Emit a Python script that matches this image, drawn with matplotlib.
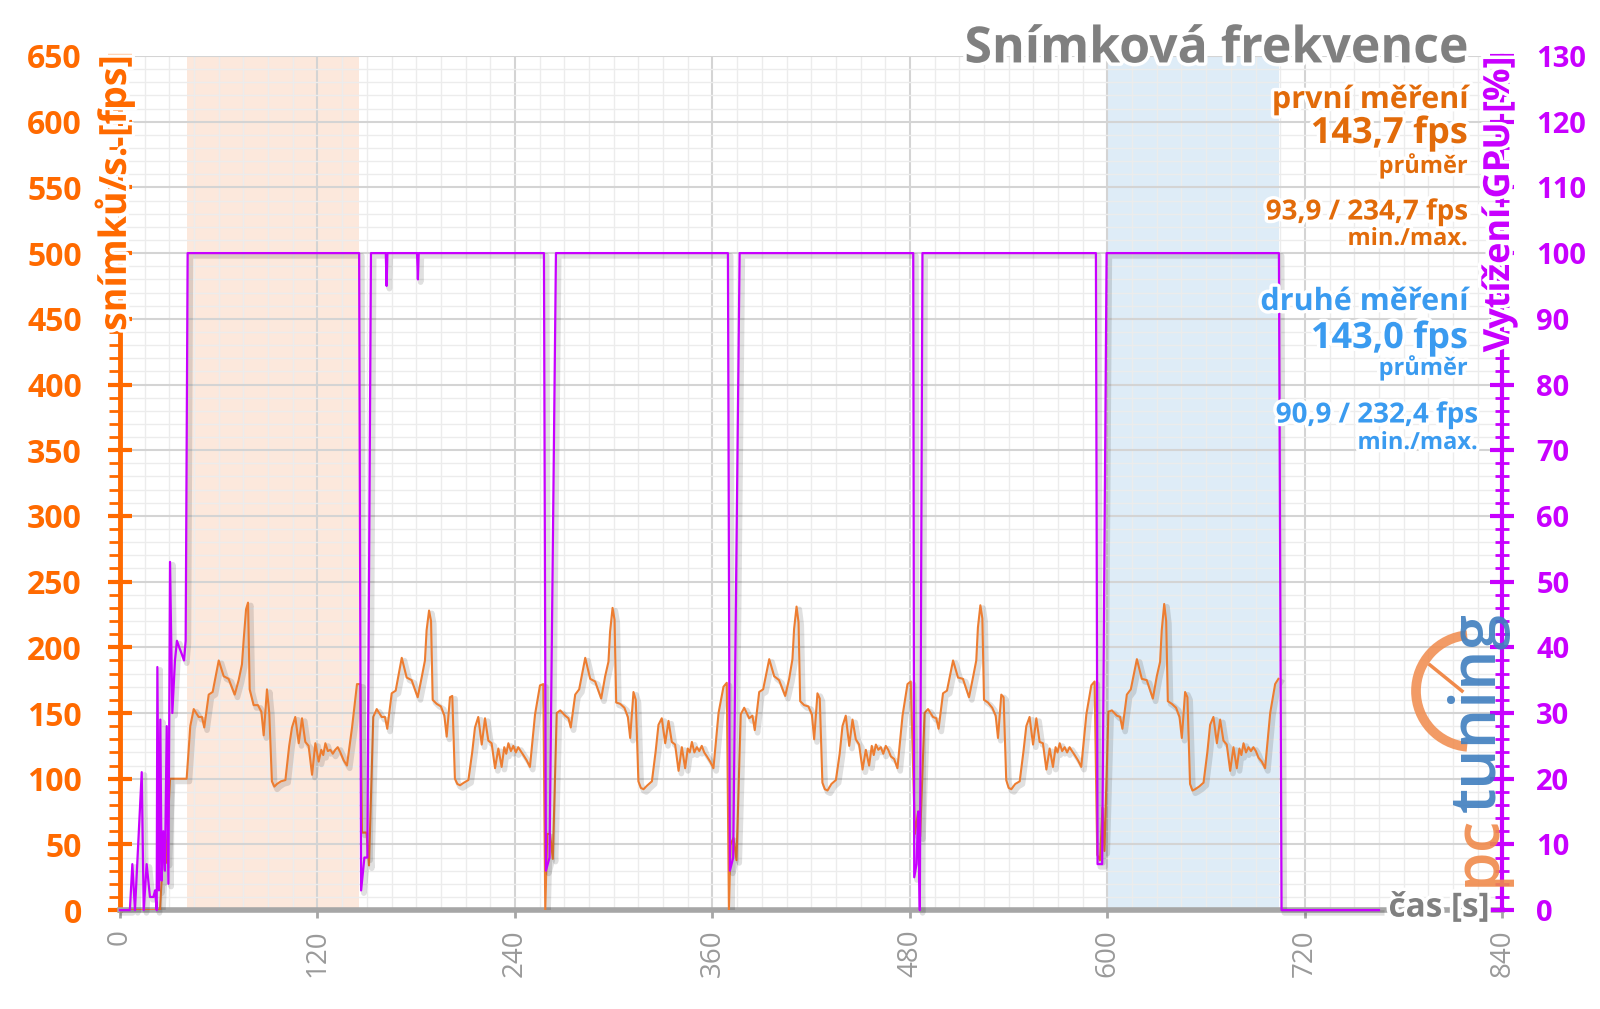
import numpy as np
import matplotlib
matplotlib.use('Agg')
import matplotlib.pyplot as plt
from matplotlib.ticker import MultipleLocator
from matplotlib.patches import Arc
import matplotlib.patheffects as pe

plt.rcParams['font.family'] = ['Open Sans', 'DejaVu Sans']

##Datos##
# casy uvnitr jednoho behu benchmarku (s od zacatku behu)
run_offsets = [1.4, 3.5, 6.5, 8.5, 9.9, 12.6, 15.0, 18.7, 21.7, 24.7,
               28.4, 30.8, 32.8, 33.8, 35.3, 36.5, 37.5, 39.9, 42.5, 44.6,
               46.0, 48.0, 49.4, 51.0, 52.5, 54.1, 56.5, 59.2, 61.5, 63.2,
               65.2, 67.3, 69.3, 71.3, 73.3, 75.4, 77.4, 79.4, 81.0, 82.2,
               83.5, 85.0, 86.5, 88.0, 89.5, 91.0, 92.6, 94.6, 96.6, 99.7,
               102.7, 104.7]
run_starts = [41.3, 152.5, 264.0, 375.8, 487.5, 599.2]

fps_run1 = [140, 153, 147, 147, 139, 164, 166, 190, 178, 176,
            164, 175, 187, 205, 229, 234, 168, 156, 156, 151,
            133, 168, 150, 98, 94, 96, 98, 99, 125, 139,
            147, 127, 146, 128, 125, 103, 127, 113, 122, 118,
            127, 121, 122, 119, 122, 124, 120, 114, 110, 139,
            172, 172]
fps_run2 = [147, 153, 147, 147, 138, 165, 167, 192, 177, 175,
            162, 177, 190, 213, 228, 220, 160, 157, 155, 148,
            132, 162, 163, 100, 96, 95, 97, 99, 120, 139,
            147, 126, 146, 129, 127, 108, 123, 109, 124, 119,
            127, 121, 125, 120, 124, 121, 118, 114, 109, 149,
            171, 172]
fps_run3 = [150, 152, 148, 146, 139, 164, 168, 192, 176, 174,
            161, 178, 189, 212, 230, 221, 158, 157, 154, 147,
            131, 166, 160, 98, 93, 92, 95, 98, 121, 141,
            146, 127, 144, 128, 126, 106, 124, 108, 123, 120,
            128, 120, 124, 121, 125, 120, 117, 113, 108, 150,
            170, 173]
fps_run4 = [149, 154, 146, 148, 137, 166, 168, 191, 178, 175,
            163, 176, 191, 214, 231, 219, 159, 156, 155, 149,
            130, 165, 161, 97, 92, 91, 96, 99, 119, 140,
            148, 125, 145, 130, 126, 107, 122, 110, 125, 118,
            126, 122, 124, 119, 125, 122, 117, 115, 108, 148,
            172, 174]
fps_run5 = [150, 153, 147, 146, 138, 165, 167, 190, 177, 176,
            162, 177, 190, 215, 232, 222, 160, 158, 154, 148,
            131, 164, 162, 99, 93, 92, 96, 98, 121, 140,
            147, 126, 146, 128, 127, 107, 123, 109, 124, 120,
            127, 121, 124, 120, 124, 121, 118, 114, 109, 149,
            171, 174]
fps_run6 = [151, 152, 148, 147, 138, 164, 168, 191, 176, 175,
            161, 178, 189, 213, 233, 220, 159, 157, 154, 147,
            131, 166, 162, 96, 91, 92, 94, 97, 120, 141,
            147, 127, 145, 129, 126, 106, 124, 108, 123, 118,
            127, 120, 124, 121, 124, 121, 116, 113, 108, 150,
            172, 176]
fps_runs = [fps_run1, fps_run2, fps_run3, fps_run4, fps_run5, fps_run6]

# nabeh pred prvnim behem
pre_t = [0, 24.3, 25.3, 26.3, 27.3, 28.4, 29.4, 30.4, 39.5, 40.5]
pre_fps = [0, 0, 23, 58, 58, 36, 74, 100, 100, 100]

# propady mezi behy
dip_t = [[147.0, 149.8, 151.3],
         [258.4, 259.6, 261.3, 263.0],
         [370.0, 371.0, 372.8, 374.6],
         [483.0, 485.0, 486.2],
         [593.8, 595.5, 597.0, 598.2]]
dip_fps = [[59, 59, 34],
           [0, 58, 58, 39],
           [0, 50, 55, 38],
           [58, 75, 56],
           [42, 38, 78, 45]]

# vytizeni GPU [%]
gpu_t = [0, 6, 7.5, 9.1, 13.2, 14.4, 16.2, 18.2, 20.3, 21.3,
         22.3, 22.7, 23.7, 24.5, 25.3, 26.3, 27.3, 28.4, 29.4, 30.4,
         31.8, 33.4, 34.6, 36.0, 37.5, 38.9, 39.9, 41.1,
         145.3, 146.5, 148.5, 150.3, 152.5,
         161.5, 162.0, 162.5, 180.5, 181.0, 181.5,
         257.6, 258.8, 261.0, 264.9,
         369.4, 370.6, 372.6, 376.5,
         482.0, 482.6, 484.0, 485.0, 486.0, 487.6,
         593.0, 594.0, 596.8, 599.5,
         704.2, 705.8, 765.0]
gpu_val = [0, 0, 7, 0, 21, 0, 7, 2, 2, 3,
           0, 37, 3, 29, 4.5, 12, 6, 28, 4, 53,
           30, 38, 41, 40, 39, 38, 41, 100,
           100, 3, 8, 8, 100,
           100, 95, 100, 100, 96, 100,
           100, 6, 8, 100,
           100, 6, 8, 100,
           100, 5, 7, 15, 0, 100,
           100, 7, 7, 100,
           100, 0, 0]

span_first = (40.5, 145.0)
span_second = (599.0, 704.0)
x_ticks = [0, 120, 240, 360, 480, 600, 720, 840]
###########################

# poskladani casove rady fps
fps_t = list(pre_t)
fps_v = list(pre_fps)
for i in range(6):
    fps_t += list(run_starts[i] + np.array(run_offsets))
    fps_v += fps_runs[i]
    if i < 5:
        fps_t += dip_t[i]
        fps_v += dip_fps[i]

ORANGE_AX = '#FF6A00'
ORANGE_LINE = '#ED7D31'
ORANGE_TXT = '#E26B0A'
BLUE_TXT = '#3A9BF0'
MAGENTA = '#C800FF'
GRAY = '#808080'
glow = [pe.withStroke(linewidth=5, foreground='white')]

fig = plt.figure(figsize=(16, 10.09), dpi=100)
ax = fig.add_axes([0.075, 0.098, 0.864, 0.8465])
ax2 = ax.twinx()

ax.axvspan(*span_first, color='#FCE4D6', alpha=0.85, lw=0)
ax.axvspan(*span_second, color='#DDEBF7', alpha=0.95, lw=0)

shadow = [pe.SimpleLineShadow(offset=(2, -2), alpha=0.12, shadow_color='k', linewidth=4), pe.Normal()]
ax.plot(fps_t, fps_v, color=ORANGE_LINE, lw=1.5, zorder=3, path_effects=shadow)
ax2.plot(gpu_t, gpu_val, color=MAGENTA, lw=1.6, zorder=5, clip_on=False, path_effects=shadow)

ax.set_xlim(0, 840)
ax.set_ylim(0, 650)
ax2.set_ylim(0, 130)

# mrizka
ax.xaxis.set_major_locator(MultipleLocator(120))
ax.xaxis.set_minor_locator(MultipleLocator(15))
ax.yaxis.set_major_locator(MultipleLocator(50))
ax.yaxis.set_minor_locator(MultipleLocator(10))
ax2.yaxis.set_major_locator(MultipleLocator(10))
ax2.yaxis.set_minor_locator(MultipleLocator(2))
ax.grid(which='major', color='#D4D4D4', lw=1.5)
ax.grid(which='minor', color='#ECECEC', lw=1.0)

ax.set_xticks(x_ticks)
ax.set_xticklabels([str(v) for v in x_ticks], rotation=90)

# osy
for a in (ax, ax2):
    a.spines['top'].set_visible(False)
ax.spines['right'].set_visible(False)
ax.spines['left'].set_color(ORANGE_AX)
ax.spines['left'].set_linewidth(3.5)
ax.spines['bottom'].set_color('#A6A6A6')
ax.spines['bottom'].set_linewidth(4)
ax2.spines['left'].set_visible(False)
ax2.spines['bottom'].set_visible(False)
ax2.spines['right'].set_color(MAGENTA)
ax2.spines['right'].set_linewidth(3)

ax.tick_params(axis='y', which='major', direction='inout', length=17, width=3,
               color=ORANGE_AX, labelcolor=ORANGE_AX, labelsize=23, pad=19)
ax.tick_params(axis='y', which='minor', direction='out', length=8, width=2, color=ORANGE_AX)
ax.tick_params(axis='x', which='major', direction='out', length=6, width=2,
               color='#A6A6A6', labelcolor='#9A9A9A', labelsize=20, pad=8)
ax.tick_params(axis='x', which='minor', length=0)
ax2.tick_params(axis='y', which='major', direction='inout', length=17, width=3,
                color=MAGENTA, labelcolor=MAGENTA, labelsize=21, pad=16)
ax2.tick_params(axis='y', which='minor', direction='inout', length=10, width=2, color=MAGENTA)
for lab in ax.get_yticklabels() + ax2.get_yticklabels():
    lab.set_fontweight('bold')

# popisky os
fig.text(0.0715, 0.9445, 'snímků/s. [fps]', rotation=90, ha='center', va='top',
         color=ORANGE_AX, fontsize=27, fontweight='bold', path_effects=glow, zorder=5)
fig.text(0.9375, 0.9445, 'Vytížení GPU [%]', rotation=90, ha='center', va='top',
         color=MAGENTA, fontsize=26, fontweight='bold', path_effects=glow, zorder=5)
fig.text(0.931, 0.100, 'čas [s]', ha='right', va='center', color=GRAY,
         fontsize=24, fontweight='bold', path_effects=glow, zorder=5)

# titulek a souhrny
fig.text(0.918, 0.951, 'Snímková frekvence', ha='right', va='center', color=GRAY,
         fontsize=36, fontweight='bold', path_effects=glow)
xr = 1468 / 1600
xr2 = 1478 / 1600
def txt(x, ypx, s, c, size):
    fig.text(x, 1 - ypx / 1009, s, ha='right', va='center', color=c, fontsize=size,
             fontweight='bold', path_effects=glow)
txt(xr, 100, 'první měření', ORANGE_TXT, 22)
txt(xr, 134, '143,7 fps', ORANGE_TXT, 26)
txt(xr, 166, 'průměr', ORANGE_TXT, 17)
txt(xr, 212, '93,9 / 234,7 fps', ORANGE_TXT, 20)
txt(xr, 239, 'min./max.', ORANGE_TXT, 17)
txt(xr, 302, 'druhé měření', BLUE_TXT, 22)
txt(xr, 339, '143,0 fps', BLUE_TXT, 26)
txt(xr, 368, 'průměr', BLUE_TXT, 17)
txt(xr2, 415, '90,9 / 232,4 fps', BLUE_TXT, 20)
txt(xr2, 443, 'min./max.', BLUE_TXT, 17)

# logo vodoznak
fig.add_artist(Arc((14.72, 3.18), 1.12, 1.12, theta1=95, theta2=265, color='#F08A4B',
                   lw=7, alpha=0.85, transform=fig.dpi_scale_trans))
fig.add_artist(plt.Line2D([14.30, 14.62], [3.44, 3.18], color='#F08A4B', lw=2.5,
                          transform=fig.dpi_scale_trans))
fig.text(0.924, 0.122, 'pc', rotation=90, ha='center', va='bottom', color='#F08A4B',
         fontsize=46, fontweight='semibold', alpha=0.9)
fig.text(0.924, 0.195, 'tuning', rotation=90, ha='center', va='bottom', color='#3F7EBF',
         fontsize=46, fontweight='semibold', alpha=0.9)

fig.savefig('out.png', dpi=100)
